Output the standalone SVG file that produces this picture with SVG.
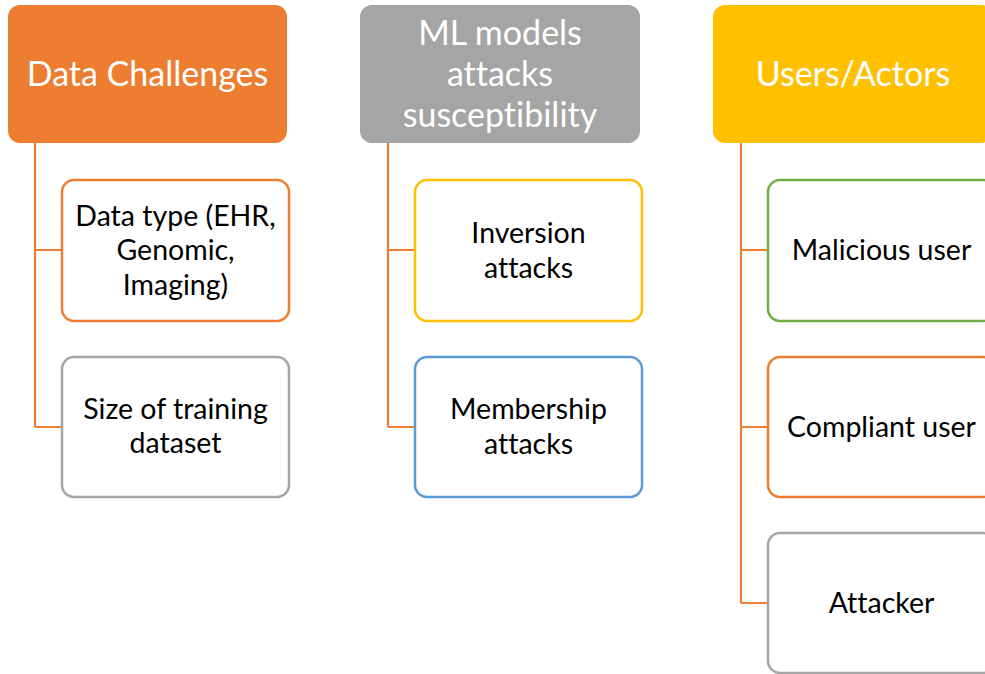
<svg xmlns="http://www.w3.org/2000/svg" width="985" height="674" viewBox="0 0 985 674">
<style>
.hdr{stroke:none}
.txt-h{font-family:Lato,"Open Sans","Liberation Sans",sans-serif;font-size:34px;fill:#ffffff;text-anchor:middle;font-variant-ligatures:none}
.txt-c{font-family:Lato,"Open Sans","Liberation Sans",sans-serif;font-size:28.5px;fill:#000000;text-anchor:middle;font-variant-ligatures:none}
.child{fill:#ffffff;stroke-width:2.5}
.conn{fill:none;stroke:#ED7D31;stroke-width:2.2}
</style>
<rect width="985" height="674" fill="#ffffff"/>
<g id="connectors">
<path class="conn" d="M35,143 V427 M35,250 H62 M35,427 H62"/>
<path class="conn" d="M388,143 V427 M388,250 H415 M388,427 H415"/>
<path class="conn" d="M741,143 V603 M741,250 H768 M741,427 H768 M741,603 H768"/>
</g>
<g id="h1"><rect class="hdr" x="8" y="5" width="279" height="138" rx="12" fill="#ED7D31"/><text class="txt-h" x="147.5" y="86">Data Challenges</text></g>
<g id="h2"><rect class="hdr" x="360" y="5" width="280" height="138" rx="12" fill="#A5A5A5"/><text class="txt-h" x="500" y="45">ML models</text><text class="txt-h" x="500" y="86">attacks</text><text class="txt-h" x="500" y="127">susceptibility</text></g>
<g id="h3"><rect class="hdr" x="713" y="5" width="280" height="138" rx="12" fill="#FFC000"/><text class="txt-h" x="853" y="86">Users/Actors</text></g>
<g id="c1a"><rect class="child" x="62" y="180" width="227" height="141" rx="12" stroke="#ED7D31"/><text class="txt-c" x="175.5" y="226">Data type (EHR,</text><text class="txt-c" x="175.5" y="260">Genomic,</text><text class="txt-c" x="175.5" y="295">Imaging)</text></g>
<g id="c1b"><rect class="child" x="62" y="357" width="227" height="140" rx="12" stroke="#A5A5A5"/><text class="txt-c" x="175.5" y="419">Size of training</text><text class="txt-c" x="175.5" y="453">dataset</text></g>
<g id="c2a"><rect class="child" x="415" y="180" width="227" height="141" rx="12" stroke="#FFC000"/><text class="txt-c" x="528.5" y="243">Inversion</text><text class="txt-c" x="528.5" y="278">attacks</text></g>
<g id="c2b"><rect class="child" x="415" y="357" width="227" height="140" rx="12" stroke="#5B9BD5"/><text class="txt-c" x="528.5" y="419">Membership</text><text class="txt-c" x="528.5" y="454">attacks</text></g>
<g id="c3a"><rect class="child" x="768" y="180" width="227" height="141" rx="12" stroke="#70AD47"/><text class="txt-c" x="881.5" y="260">Malicious user</text></g>
<g id="c3b"><rect class="child" x="768" y="357" width="227" height="140" rx="12" stroke="#ED7D31"/><text class="txt-c" x="881.5" y="437">Compliant user</text></g>
<g id="c3c"><rect class="child" x="768" y="533" width="227" height="140" rx="12" stroke="#A5A5A5"/><text class="txt-c" x="881.5" y="613">Attacker</text></g>
</svg>
